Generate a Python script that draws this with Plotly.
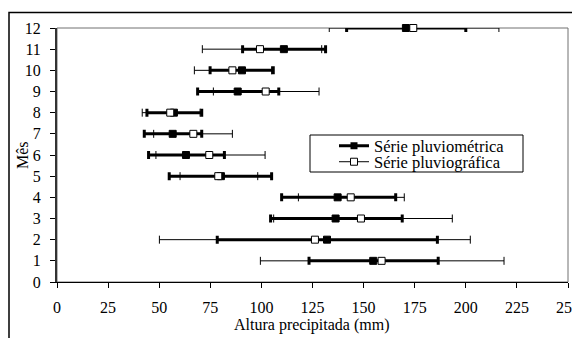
import base64
import plotly.graph_objects as go

meses = [1, 2, 3, 4, 5, 6, 7, 8, 9, 10, 11, 12]

# Série pluviométrica (média, mínimo, máximo)
pluviom_media = [154.7, 132.1, 136.3, 137.3, 80.2, 63.1, 56.6, 57.2, 88.4, 90.5, 111.0, 170.7]
pluviom_min = [123.3, 78.4, 104.5, 109.9, 54.9, 44.8, 42.7, 44.0, 68.8, 74.9, 90.8, 141.7]
pluviom_max = [186.5, 186.1, 168.9, 165.7, 105.0, 81.9, 70.8, 70.8, 108.5, 105.8, 131.4, 200.0]

# Série pluviográfica (média, mínimo, máximo)
pluviog_media = [158.8, 126.2, 148.7, 143.7, 78.9, 74.5, 66.7, 55.4, 102.1, 85.8, 99.3, 174.3]
pluviog_min = [99.5, 50.1, 106.0, 118.1, 60.2, 48.4, 47.3, 41.7, 76.5, 67.2, 71.1, 133.2]
pluviog_max = [218.7, 202.2, 193.4, 169.9, 98.2, 101.8, 85.8, 70.0, 128.2, 105.0, 129.5, 216.2]

x_ticks = [0, 25, 50, 75, 100, 125, 150, 175, 200, 225, 250]
y_ticks = list(range(0, 13))

FONT = "Liberation Serif, Times New Roman, serif"

def plus(mx, md):
    return [a - b for a, b in zip(mx, md)]

def minus(md, mn):
    return [a - b for a, b in zip(md, mn)]

fig = go.Figure()

fig.add_trace(go.Scatter(
    x=pluviom_media, y=meses, mode="markers", showlegend=False, cliponaxis=False,
    marker=dict(symbol="square", size=7, color="black", line=dict(color="black", width=1)),
    error_x=dict(type="data", symmetric=False,
                 array=plus(pluviom_max, pluviom_media),
                 arrayminus=minus(pluviom_media, pluviom_min),
                 color="black", thickness=3, width=4),
))
fig.add_trace(go.Scatter(
    x=pluviog_media, y=meses, mode="markers", showlegend=False, cliponaxis=False,
    marker=dict(symbol="square", size=7, color="white", line=dict(color="black", width=1)),
    error_x=dict(type="data", symmetric=False,
                 array=plus(pluviog_max, pluviog_media),
                 arrayminus=minus(pluviog_media, pluviog_min),
                 color="black", thickness=1, width=4),
))

# legend entries
fig.add_trace(go.Scatter(
    x=[None], y=[None], mode="lines+markers", name="Série pluviométrica",
    line=dict(color="black", width=3),
    marker=dict(symbol="square", size=7, color="black"),
    legend="legend",
))
fig.add_trace(go.Scatter(
    x=[None], y=[None], mode="lines+markers", name="Série pluviográfica",
    line=dict(color="black", width=1),
    marker=dict(symbol="square", size=7, color="white", line=dict(color="black", width=1)),
    legend="legend2",
))

# The page has an 8px body margin; positions below are given in page pixels.
OFF = 8
W, H = 572, 330
PLOT_X0, PLOT_X1, PLOT_Y0, PLOT_Y1 = 57, 568, 28, 282  # page pixels

def px_x(p):
    return (p - OFF) / W

def px_y(p):
    return 1 - (p - OFF) / H

# chart frame (top and left edges) as a full-figure SVG overlay
frame_svg = (
    f'<svg xmlns="http://www.w3.org/2000/svg" width="{W}" height="{H}" '
    f'viewBox="0 0 {W} {H}">'
    f'<path d="M1 {H} L1 4.5 L{W} 4.5" fill="none" stroke="black" stroke-width="1.5"/>'
    f'</svg>'
)
frame_uri = "data:image/svg+xml;base64," + base64.b64encode(frame_svg.encode()).decode()

fig.update_layout(
    width=W, height=H,
    margin=dict(l=0, r=0, t=0, b=0, pad=0, autoexpand=False),
    paper_bgcolor="white", plot_bgcolor="rgba(0,0,0,0)",
    font=dict(family=FONT, size=16, color="black"),
    legend=dict(x=px_x(334), y=px_y(146), xanchor="left", yanchor="middle",
                bgcolor="rgba(0,0,0,0)", font=dict(size=16.5, family=FONT)),
    legend2=dict(x=px_x(334), y=px_y(162), xanchor="left", yanchor="middle",
                 bgcolor="rgba(0,0,0,0)", font=dict(size=16.5, family=FONT)),
    xaxis=dict(
        domain=[px_x(PLOT_X0), px_x(PLOT_X1)],
        range=[0, 250], tickmode="array", tickvals=x_ticks,
        ticktext=[str(v) for v in x_ticks],
        ticks="outside", ticklen=5, tickcolor="black", tickwidth=1,
        showline=True, linecolor="black", linewidth=1,
        showgrid=False, zeroline=False, automargin=False,
        ticklabelstandoff=6,
        tickfont=dict(size=16, family=FONT),
    ),
    yaxis=dict(
        domain=[px_y(PLOT_Y1), px_y(PLOT_Y0)],
        range=[0, 12], tickmode="array", tickvals=y_ticks,
        ticktext=[str(v) for v in y_ticks],
        ticks="outside", ticklen=5, tickcolor="black", tickwidth=1,
        showline=True, linecolor="#333333", linewidth=2,
        showgrid=False, zeroline=False, automargin=False,
        ticklabelstandoff=6,
        tickfont=dict(size=16, family=FONT),
    ),
    images=[dict(source=frame_uri, xref="paper", yref="paper", x=0, y=1,
                 sizex=1, sizey=1, xanchor="left", yanchor="top",
                 sizing="stretch", layer="above")],
    annotations=[
        dict(text="Altura precipitada (mm)", xref="paper", yref="paper",
             x=px_x((PLOT_X0 + PLOT_X1) / 2), y=px_y(325), xanchor="center", yanchor="middle",
             showarrow=False, font=dict(size=16, family=FONT)),
        dict(text="Mês", xref="paper", yref="paper", textangle=-90,
             x=px_x(22), y=px_y((PLOT_Y0 + PLOT_Y1) / 2), xanchor="center", yanchor="middle",
             showarrow=False, font=dict(size=16, family=FONT)),
    ],
    shapes=[
        # plot area border
        dict(type="rect", xref="x domain", yref="y domain", x0=0, y0=0, x1=1, y1=1,
             line=dict(color="#707070", width=1), layer="below"),
        # legend box
        dict(type="rect", xref="paper", yref="paper",
             x0=px_x(310), x1=px_x(523), y0=px_y(172), y1=px_y(135),
             line=dict(color="black", width=1), fillcolor="rgba(0,0,0,0)"),
    ],
)

fig.write_html("out.html")
